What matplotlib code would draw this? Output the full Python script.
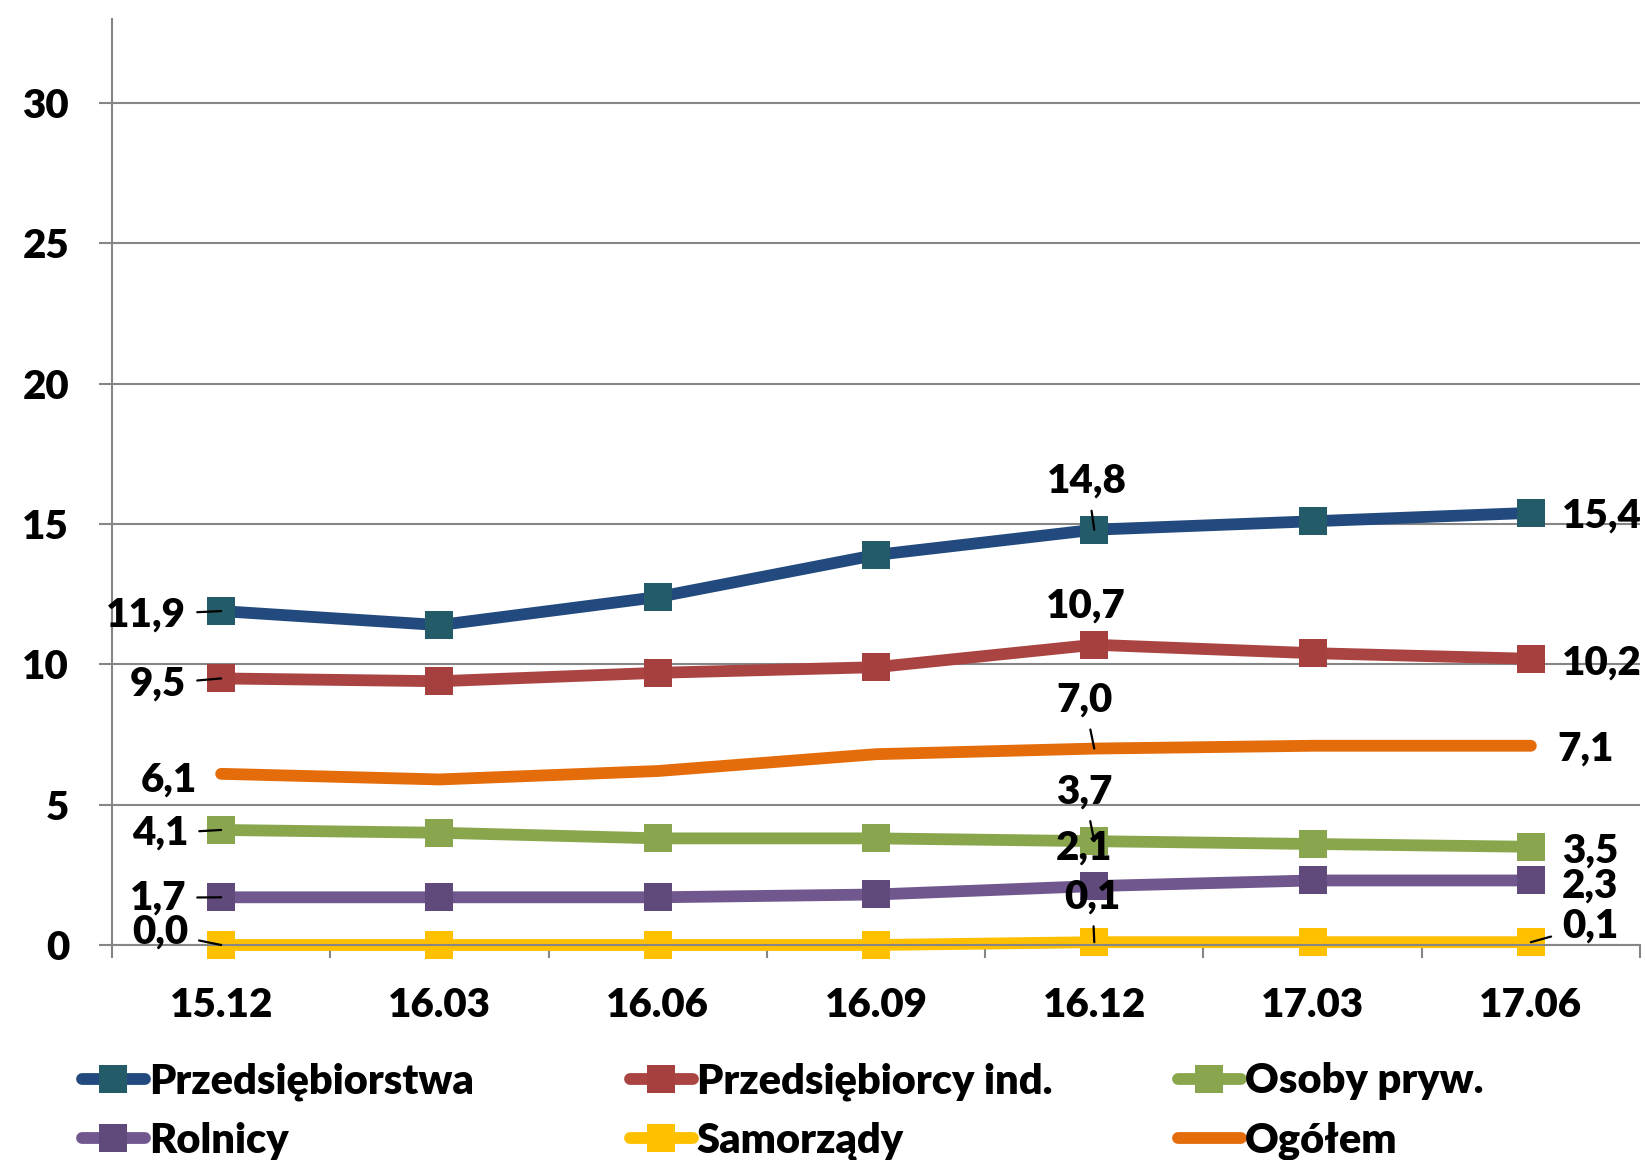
import matplotlib
matplotlib.use("Agg")
import matplotlib.pyplot as plt
import numpy as np

plt.rcParams['font.family'] = ['Lato', 'DejaVu Sans']
plt.rcParams['font.weight'] = 'heavy'

# ---------------- data ----------------
categories = ['15.12', '16.03', '16.06', '16.09', '16.12', '17.03', '17.06']
przedsiebiorstwa = [11.9, 11.4, 12.4, 13.9, 14.8, 15.1, 15.4]
przedsiebiorcy_ind = [9.5, 9.4, 9.7, 9.9, 10.7, 10.4, 10.2]
osoby_pryw = [4.1, 4.0, 3.8, 3.8, 3.7, 3.6, 3.5]
rolnicy = [1.7, 1.7, 1.7, 1.8, 2.1, 2.3, 2.3]
samorzady = [0.0, 0.0, 0.0, 0.0, 0.1, 0.1, 0.1]
ogolem = [6.1, 5.9, 6.2, 6.8, 7.0, 7.1, 7.1]
series_names = ['Przedsiębiorstwa', 'Przedsiębiorcy ind.', 'Osoby pryw.',
                'Rolnicy', 'Samorządy', 'Ogółem']
yticks = [0, 5, 10, 15, 20, 25, 30]

# ---------------- style ----------------
line_colors = ['#234A7E', '#AA4442', '#89A64D', '#70588F', '#FFC000', '#E46C0A']
marker_colors = ['#235B68', '#A5403F', '#89A54E', '#604A7B', '#FFC000', None]
LW = 8.5
MS = 19.5
FS = 29
LFS = 30
WEIGHT = 'heavy'
GRAY = '#868686'

fig = plt.figure(figsize=(16.45, 11.6), dpi=100)
ax = fig.add_axes([112 / 1645, 1 - 945 / 1160, (1640 - 112) / 1645, (945 - 19) / 1160])

x = np.arange(len(categories))
all_series = [przedsiebiorstwa, przedsiebiorcy_ind, osoby_pryw, rolnicy, samorzady, ogolem]
handles = []
for vals, name, lc, mc in zip(all_series, series_names, line_colors, marker_colors):
    if mc is None:
        ln, = ax.plot(x, vals, color=lc, lw=LW, solid_capstyle='round',
                      solid_joinstyle='round', label=name, zorder=2, clip_on=False)
    else:
        ln, = ax.plot(x, vals, color=lc, lw=LW, marker='s', ms=MS, mfc=mc,
                      mec=mc, mew=0, solid_capstyle='round',
                      solid_joinstyle='round', label=name, zorder=2, clip_on=False)
    handles.append(ln)

# ---------------- data labels (index, dx px, dy px, ha, leader) ----------------
label_layout = {
    0: [(0, -35, 0, 'right', True), (4, -7, 52, 'center', True), (6, 31, 0, 'left', False)],
    1: [(0, -35, -2, 'right', True), (4, -9, 42, 'center', False), (6, 31, -1, 'left', False)],
    2: [(0, -33, 0, 'right', True), (4, -10, 53, 'center', True), (6, 31, -1, 'left', False)],
    3: [(0, -35, 3, 'right', True), (4, -10, 41, 'center', False), (6, 31, -2, 'left', False)],
    4: [(0, -33, 16, 'right', True), (4, -2, 49, 'center', True), (6, 31, 20, 'left', True)],
    5: [(0, -24, -3, 'right', False), (4, -10, 52, 'center', True), (6, 27, 0, 'left', False)],
}
for si, vals in enumerate(all_series):
    for (i, dx, dy, ha, leader) in label_layout[si]:
        txt = f"{vals[i]:.1f}".replace('.', ',')
        kw = {}
        if leader:
            kw['arrowprops'] = dict(arrowstyle='-', color='black', lw=1.6,
                                    shrinkA=6, shrinkB=0)
        ax.annotate(txt, xy=(x[i], vals[i]), xytext=(dx, dy),
                    textcoords='offset pixels', ha=ha, va='center_baseline',
                    fontsize=FS, fontweight=WEIGHT, color='black', zorder=5,
                    annotation_clip=False, **kw)

# ---------------- axes ----------------
ax.set_xlim(-0.5, len(categories) - 0.5)
ax.set_ylim(0, 33)
ax.set_yticks(yticks)
ax.set_yticklabels([str(v) for v in yticks])
ax.set_xticks(x)
ax.set_xticklabels(categories)
ax.set_xticks(np.arange(-0.5, len(categories), 1.0), minor=True)
ax.tick_params(axis='x', which='major', length=0, pad=30, labelsize=FS)
ax.tick_params(axis='x', which='minor', length=9.4, width=1.5, color=GRAY, direction='out')
ax.tick_params(axis='y', which='major', length=9.4, width=1.5, color=GRAY,
               direction='out', pad=21.5, labelsize=FS)
for lab in ax.get_xticklabels() + ax.get_yticklabels():
    lab.set_fontweight(WEIGHT)

ax.grid(axis='y', color=GRAY, lw=1.5, zorder=0)
ax.set_axisbelow(True)
for s in ['top', 'right']:
    ax.spines[s].set_visible(False)
for s in ['left', 'bottom']:
    ax.spines[s].set_color(GRAY)
    ax.spines[s].set_linewidth(1.5)

# ---------------- legend (three columns, two rows) ----------------
cols = [(0, 3), (1, 4), (2, 5)]
col_x = [82, 630, 1178]
for (a, b), cx in zip(cols, col_x):
    fig.legend([handles[a], handles[b]], [series_names[a], series_names[b]],
               loc='center left', bbox_to_anchor=(cx / 1645, 1 - 1111 / 1160),
               frameon=False, prop={'weight': WEIGHT, 'size': LFS},
               handlelength=1.5, handletextpad=0.1, labelspacing=0.5,
               borderpad=0, borderaxespad=0, numpoints=1)

fig.savefig('out.png', dpi=100)
